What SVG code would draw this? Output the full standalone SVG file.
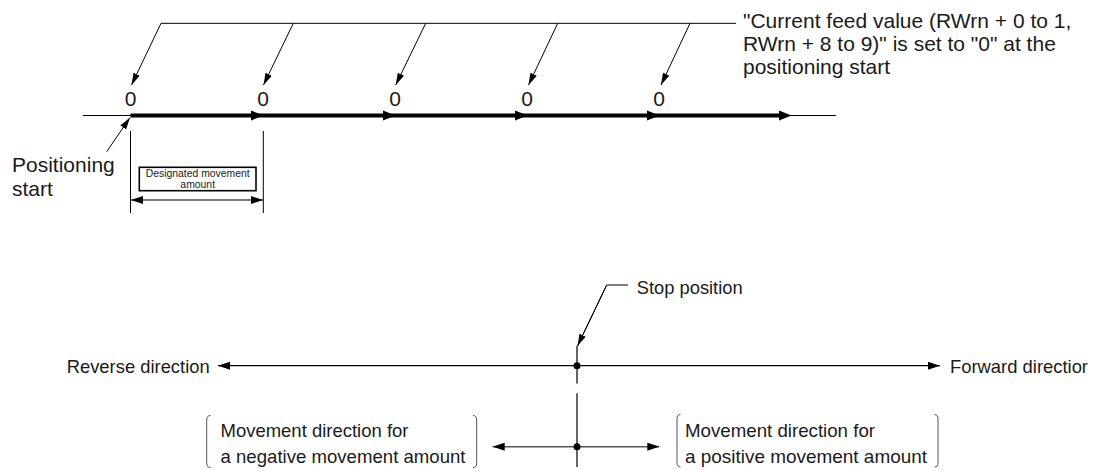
<svg xmlns="http://www.w3.org/2000/svg" width="1097" height="470" viewBox="0 0 1097 470">
<style>
text{font-family:"Liberation Sans",Arial,sans-serif;fill:#1a1a1a}
.t21{font-size:21px}
.t18{font-size:18.5px}
.thin{stroke:#000;stroke-width:1.2;fill:none}
.lead{stroke:#000;stroke-width:1;fill:none}
.thick{stroke:#000;stroke-width:4;fill:none}
.gray{stroke:#555;stroke-width:1.5;fill:none}
.br{stroke:#555;stroke-width:1;fill:none}
.head{fill:#000}
</style>
<defs>
<marker id="ah" viewBox="0 0 12 8" refX="12" refY="4" markerWidth="12" markerHeight="8" orient="auto-start-reverse" markerUnits="userSpaceOnUse"><path d="M0,0 L12,4 L0,8 Z" fill="#000"/></marker>
<marker id="ahn" viewBox="0 0 12 7" refX="12" refY="3.5" markerWidth="12" markerHeight="7" orient="auto" markerUnits="userSpaceOnUse"><path d="M0,0 L12,3.5 L0,7 Z" fill="#000"/></marker>
<marker id="ahg" viewBox="0 0 12 8" refX="12" refY="4" markerWidth="12" markerHeight="8" orient="auto-start-reverse" markerUnits="userSpaceOnUse"><path d="M0,0 L12,4 L0,8 Z" fill="#000"/></marker>
</defs>

<g id="connectors">
  <!-- top feed line -->
  <line class="thin" x1="83" y1="115.5" x2="131" y2="115.5"/>
  <line class="thick" x1="130.5" y1="115.5" x2="781" y2="115.5"/>
  <line class="thin" x1="781" y1="115.5" x2="836" y2="115.5"/>
  <polygon class="head" points="251,110.5 263.5,115.5 251,120.5"/>
  <polygon class="head" points="383,110.5 395.5,115.5 383,120.5"/>
  <polygon class="head" points="515,110.5 527.5,115.5 515,120.5"/>
  <polygon class="head" points="647,110.5 659.5,115.5 647,120.5"/>
  <polygon class="head" points="779,110.5 791.5,115.5 779,120.5"/>
  <!-- top leader -->
  <line class="lead" x1="161" y1="23.3" x2="736" y2="23.3"/>
  <line class="lead" x1="161" y1="23.3" x2="131.5" y2="85" marker-end="url(#ahn)"/>
  <line class="lead" x1="293.3" y1="23.3" x2="263.5" y2="85" marker-end="url(#ahn)"/>
  <line class="lead" x1="425.7" y1="23.3" x2="395.7" y2="85" marker-end="url(#ahn)"/>
  <line class="lead" x1="557.7" y1="23.3" x2="528.5" y2="85" marker-end="url(#ahn)"/>
  <line class="lead" x1="690" y1="23.3" x2="661" y2="85" marker-end="url(#ahn)"/>
  <!-- positioning start arrow -->
  <line class="lead" x1="106.7" y1="151.7" x2="130" y2="117.5" marker-end="url(#ahn)"/>
  <!-- dimension -->
  <line class="lead" x1="130.5" y1="131" x2="130.5" y2="213"/>
  <line class="lead" x1="263.3" y1="131" x2="263.3" y2="213"/>
  <line class="thin" x1="131" y1="200" x2="263" y2="200" marker-start="url(#ah)" marker-end="url(#ah)"/>
  <!-- bottom axis -->
  <line class="thin" x1="218" y1="365.7" x2="940" y2="365.7" marker-start="url(#ah)" marker-end="url(#ah)"/>
  <line class="thin" x1="577" y1="346" x2="577" y2="383.5"/>
  <line class="thin" x1="577" y1="393.3" x2="577" y2="467"/>
  <circle cx="577" cy="365.7" r="3.5" fill="#000"/>
  <polyline class="lead" points="628,285 606.7,285 577.5,346"/>
  <line class="lead" x1="606.7" y1="285" x2="577.5" y2="346" marker-end="url(#ahn)"/>
  <line class="gray" x1="492.7" y1="446.7" x2="659.3" y2="446.7" marker-start="url(#ahg)" marker-end="url(#ahg)"/>
  <circle cx="577" cy="446.7" r="3.5" fill="#000"/>
</g>

<g id="zero-labels">
  <text class="t21" x="130.5" y="106" text-anchor="middle">0</text>
  <text class="t21" x="263" y="106" text-anchor="middle">0</text>
  <text class="t21" x="395" y="106" text-anchor="middle">0</text>
  <text class="t21" x="527" y="106" text-anchor="middle">0</text>
  <text class="t21" x="659" y="106" text-anchor="middle">0</text>
</g>

<g id="note-current-feed">
  <text class="t21" x="743" y="27.5">"Current feed value (RWrn + 0 to 1,</text>
  <text class="t21" x="743" y="50.5">RWrn + 8 to 9)" is set to "0" at the</text>
  <text class="t21" x="743" y="73.5">positioning start</text>
</g>

<g id="positioning-start">
  <text class="t21" x="12" y="172">Positioning</text>
  <text class="t21" x="12" y="196">start</text>
</g>

<g id="designated-movement">
  <rect x="139.3" y="167.3" width="116.7" height="23.4" fill="#fff" stroke="#000" stroke-width="1.6"/>
  <text x="197.7" y="177" text-anchor="middle" style="font-size:10.4px">Designated movement</text>
  <text x="197.7" y="187.5" text-anchor="middle" style="font-size:10.4px">amount</text>
</g>

<g id="reverse-direction">
  <text class="t18" x="66.7" y="372.7" textLength="143" lengthAdjust="spacingAndGlyphs">Reverse direction</text>
</g>

<g id="forward-direction">
  <text class="t18" x="950" y="372.7" textLength="138" lengthAdjust="spacingAndGlyphs">Forward directior</text>
</g>

<g id="stop-position">
  <text class="t18" x="636.7" y="294" textLength="106" lengthAdjust="spacingAndGlyphs">Stop position</text>
</g>

<g id="negative-direction">
  <path class="br" d="M210.5,415.5 Q206.7,415.5 206.7,420 L206.7,463 Q206.7,467.5 210.5,467.5"/>
  <path class="br" d="M473,415.5 Q476.7,415.5 476.7,420 L476.7,463 Q476.7,467.5 473,467.5"/>
  <text class="t18" x="220.5" y="436.7" textLength="188" lengthAdjust="spacingAndGlyphs">Movement direction for</text>
  <text class="t18" x="220.5" y="462.7" textLength="245" lengthAdjust="spacingAndGlyphs">a negative movement amount</text>
</g>

<g id="positive-direction">
  <path class="br" d="M680.5,414.5 Q677,414.5 677,419 L677,462.5 Q677,467 680.5,467"/>
  <path class="br" d="M934.5,414.5 Q938,414.5 938,419 L938,462.5 Q938,467 934.5,467"/>
  <text class="t18" x="685" y="436.7" textLength="190" lengthAdjust="spacingAndGlyphs">Movement direction for</text>
  <text class="t18" x="685" y="462.7" textLength="242" lengthAdjust="spacingAndGlyphs">a positive movement amount</text>
</g>
</svg>
